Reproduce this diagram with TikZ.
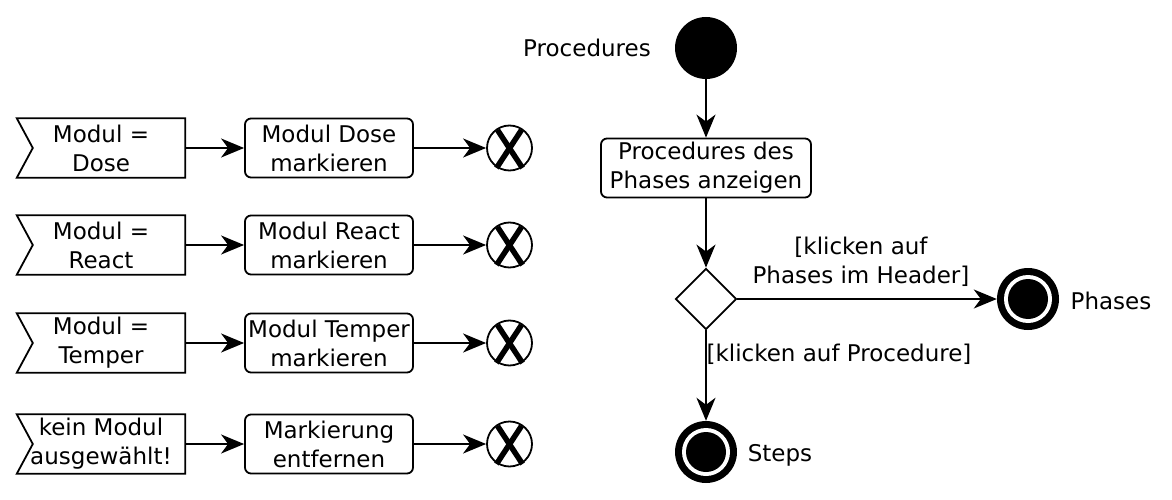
\documentclass[tikz,border=0pt]{standalone}
\usepackage{fontspec}
\setmainfont{DejaVu Sans}
\usetikzlibrary{arrows.meta,shapes.geometric,calc}
\tikzset{
  lw/.style={line width=1.8pt},
  arr/.style={lw,-{Stealth[length=23pt,width=19pt,inset=7pt]}},
  actbox/.style={draw,lw,rounded corners=6pt,minimum width=168pt,minimum height=59pt,inner sep=0pt,align=center},
  evtbox/.style={minimum width=168pt,minimum height=59pt,inner sep=0pt,align=center},
  xend/.style={circle,draw,lw,fill=white,minimum size=45pt,inner sep=0pt},
  xstroke/.style={line width=5.5pt},
  startnode/.style={circle,fill=black,minimum size=62pt,inner sep=0pt},
  endnode/.style={circle,fill=black,minimum size=62pt,inner sep=0pt},
  dec/.style={diamond,draw,lw,fill=white,minimum width=61pt,minimum height=61pt,inner sep=0pt},
  lbl/.style={inner sep=0pt,align=center}
}
\begin{document}
\begin{tikzpicture}[x=1pt,y=-1pt,font=\fontsize{23}{29}\selectfont]
\useasboundingbox (0,0) rectangle (1172,500);
% left rows
\foreach \i/\yy/\ea/\eb/\aa/\ab in {1/148/Modul =/Dose/Modul Dose/markieren,
                                    2/245/Modul =/React/Modul React/markieren,
                                    3/343/Modul =/Temper/Modul Temper/markieren,
                                    4/444/kein Modul/ausgewählt!/Markierung/entfernen}{
  \node[evtbox] (e\i) at (101,\yy) {\ea\\\eb};
  \draw[lw] (e\i.north west) -- (e\i.north east) -- (e\i.south east) -- (e\i.south west)
            -- ($(e\i.west)+(16,0)$) -- cycle;
  \node[actbox] (a\i) at (329,\yy) {\aa\\\ab};
  \node[xend] (x\i) at (509.5,\yy) {};
  \draw[xstroke] ($(x\i.center)+(-12,-18)$) -- ($(x\i.center)+(13,20)$);
  \draw[xstroke] ($(x\i.center)+(12,-18)$) -- ($(x\i.center)+(-13,20)$);
  \draw[arr] (e\i) -- (a\i);
  \draw[arr] (a\i) -- (x\i);
}
% right side
\node[startnode] (s) at (706,48) {};
\node[lbl] (sl) at (587,48) {Procedures};
\node[actbox,minimum width=210pt] (pa) at (706,168) {Procedures des\\Phases anzeigen};
\node[dec] (d) at (706,299) {};
\node[endnode] (ep) at (1028,299) {};
\fill[white] (ep.center) circle (24pt);
\fill[black] (ep.center) circle (20pt);
\node[lbl] (epl) at (1111,301) {Phases};
\node[endnode] (es) at (706,452) {};
\fill[white] (es.center) circle (24pt);
\fill[black] (es.center) circle (20pt);
\node[lbl] (esl) at (780,455) {Steps};
\draw[arr] (s) -- (pa);
\draw[arr] (pa) -- (d);
\draw[arr] (d) -- (ep);
\draw[arr] (d) -- (es);
\node[lbl] (g1) at (861,262) {[klicken auf\\Phases im Header]};
\node[lbl] (g2) at (839,354) {[klicken auf Procedure]};
\end{tikzpicture}
\end{document}
